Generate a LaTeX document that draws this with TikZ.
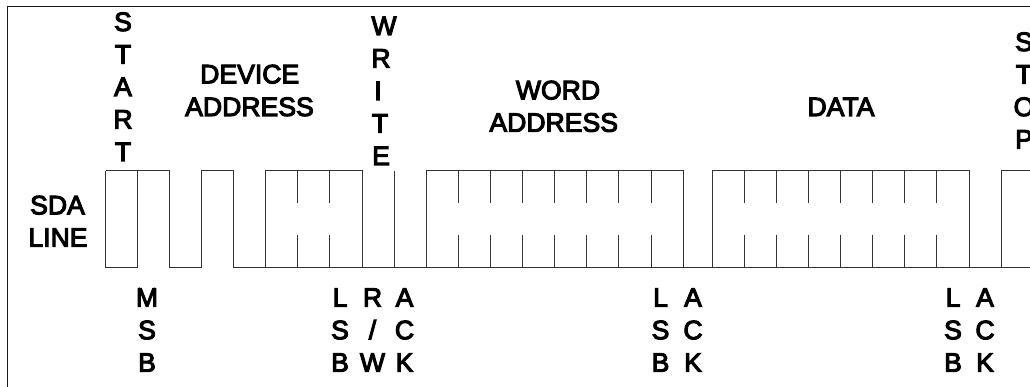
\documentclass[tikz,border=0pt]{standalone}
\usepackage{fontspec}
\newfontfamily\labfont{Liberation Sans}[FakeBold=4]
\tikzset{
  lbl/.style={anchor=base,inner sep=0pt,outer sep=0pt,font=\labfont\fontsize{26.6}{32}\selectfont,text=black},
  frameline/.style={draw=black!90,line width=1.4pt},
  wave/.style={draw=black!80,line width=1pt,line join=miter,line cap=butt},
  tick/.style={draw=black!80,line width=1pt}
}
% \stacktext{x}{first baseline y}{letters}
\newcommand{\stacktext}[3]{%
  \foreach \ch [count=\n from 0] in {#3}{%
    \node[lbl] (t#1n\n) at (#1,{#2+32.5*\n}) {\ch};}}
\begin{document}
\begin{tikzpicture}[x=1pt,y=-1pt]
\useasboundingbox (0,0) rectangle (1030,387);
\fill[white] (0,0) rectangle (1030,387);
% frame
\draw[frameline] (7.5,387) -- (7.5,6.5) -- (1030,6.5);
% waveform
\draw[wave] (105.5,171) -- (105.5,267.3) -- (137.5,267.3) -- (137.5,171);
\draw[wave] (105.5,171) -- (169.5,171) -- (169.5,267.3) -- (201.5,267.3) -- (201.5,171) -- (233.5,171) -- (233.5,267.3) -- (1030,267.3);
\draw[wave] (265.6,267.3) -- (265.6,171) -- (362,171) -- (362,267.3);
\draw[wave] (394,171) -- (394,267.3);
\draw[wave] (426,267.3) -- (426,171) -- (683,171) -- (683,267.3);
\draw[wave] (712.3,267.3) -- (712.3,171) -- (969,171) -- (969,267.3);
\draw[wave] (1001,267.3) -- (1001,171) -- (1030,171);
% bit ticks with a gap
\foreach \x in {297.7,329.7,458,490,522.3,554.5,586.7,618.7,651,744.3,776.3,808.5,840.5,872.7,904.7,936.7}{
  \draw[tick] (\x,171) -- (\x,203.3);
  \draw[tick] (\x,235) -- (\x,267.3);
}
% labels
\stacktext{123}{31}{S,T,A,R,T}
\node[lbl] (w1) at (384,35) {W};
\node[lbl] (w2) at (381,67.5) {R};
\node[lbl] (w3) at (378,100) {I};
\node[lbl] (w4) at (380,132.5) {T};
\node[lbl] (w5) at (381,165) {E};
\stacktext{1024}{51}{S,T,O,P}
\node[lbl] (dev1) at (249.7,83.3) {DEVICE};
\node[lbl] (dev2) at (249.5,116) {ADDRESS};
\node[lbl] (word1) at (558,99.3) {WORD};
\node[lbl] (word2) at (553.7,131.7) {ADDRESS};
\node[lbl] (data) at (841,116) {DATA};
\node[lbl] (sda1) at (57.5,214.3) {SDA};
\node[lbl] (sda2) at (58,246.7) {LINE};
\stacktext{147}{306.7}{M,S,B}
\stacktext{340}{306.7}{L,S,B}
\stacktext{372.5}{306.7}{R,/,W}
\stacktext{404.5}{306.7}{A,C,K}
\stacktext{660.5}{306.7}{L,S,B}
\stacktext{693}{306.7}{A,C,K}
\stacktext{953}{306.7}{L,S,B}
\stacktext{985}{306.7}{A,C,K}
\end{tikzpicture}
\end{document}
